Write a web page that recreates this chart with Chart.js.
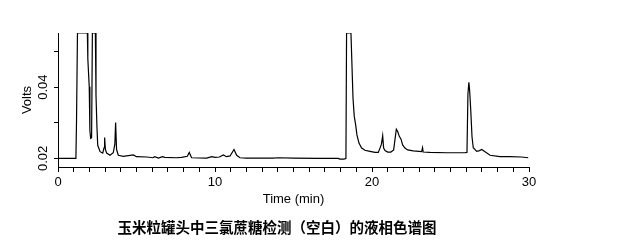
<!DOCTYPE html>
<html>
<head>
<meta charset="utf-8">
<script src="https://cdn.jsdelivr.net/npm/chart.js@4"></script>
<style>
  html, body { margin: 0; padding: 0; background: #fff; }
  #wrap { width: 622px; height: 247px; }
</style>
</head>
<body>
<div id="wrap"><canvas id="chart" width="622" height="247"></canvas></div>
<script>
// chromatogram trace
const times = [0, 1.14, 1.18, 1.24, 1.87, 1.90, 1.99, 2.03, 2.08, 2.14, 2.19, 2.38, 2.42, 2.48, 2.53, 2.68, 2.85, 2.93, 2.97, 3.02,
  3.10, 3.31, 3.52, 3.62, 3.67, 3.73, 3.84, 4.16, 4.80, 5.00, 5.66, 6.05, 6.15, 6.40, 6.65, 6.80, 7.55, 7.87, 8.24, 8.36,
  8.51, 9.47, 9.79, 10.00, 10.28, 10.53, 10.74, 10.96, 11.21, 11.38, 11.59, 12.00, 13.70, 14.00, 15.00, 16.50, 17.86, 17.95, 18.20, 18.34,
  18.38, 18.66, 18.70, 18.75, 18.79, 18.87, 18.96, 19.04, 19.17, 19.34, 19.55, 19.87, 20.19, 20.40, 20.51, 20.60, 20.68, 20.74, 20.83, 21.00,
  21.20, 21.38, 21.46, 21.55, 21.63, 21.74, 21.85, 21.95, 22.10, 22.27, 22.63, 23.16, 23.22, 23.26, 23.69, 24.75, 25.92, 26.05, 26.11, 26.17,
  26.22, 26.29, 26.37, 26.45, 26.67, 26.85, 26.99, 27.20, 27.52, 28.15, 28.78, 29.52, 29.95];
const volts = [0.0200, 0.0200, 0.0305, 0.0552, 0.0552, 0.0480, 0.0401, 0.0279, 0.0256, 0.0258, 0.0552, 0.0552, 0.0378, 0.0289, 0.0237, 0.0219, 0.0215, 0.0230, 0.0259, 0.0225,
  0.0215, 0.0209, 0.0216, 0.0240, 0.0301, 0.0225, 0.0209, 0.0206, 0.0210, 0.0205, 0.0204, 0.0202, 0.0205, 0.0201, 0.0205, 0.0203, 0.0202, 0.0203, 0.0206, 0.0217,
  0.0202, 0.0201, 0.0205, 0.0203, 0.0204, 0.0210, 0.0205, 0.0207, 0.0225, 0.0209, 0.0202, 0.0201, 0.0201, 0.0202, 0.0201, 0.0200, 0.0200, 0.0198, 0.0198, 0.0200,
  0.0552, 0.0552, 0.0495, 0.0425, 0.0369, 0.0318, 0.0294, 0.0266, 0.0243, 0.0229, 0.0223, 0.0220, 0.0217, 0.0217, 0.0229, 0.0240, 0.0264, 0.0229, 0.0222, 0.0218,
  0.0218, 0.0224, 0.0252, 0.0282, 0.0276, 0.0262, 0.0254, 0.0238, 0.0229, 0.0224, 0.0221, 0.0219, 0.0230, 0.0218, 0.0217, 0.0216, 0.0216, 0.0217, 0.0380, 0.0414,
  0.0390, 0.0335, 0.0261, 0.0230, 0.0220, 0.0222, 0.0225, 0.0219, 0.0209, 0.0205, 0.0205, 0.0204, 0.0202];

const xTicks = [0, 1, 2, 3, 4, 5, 6, 7, 8, 9, 10, 11, 12, 13, 14, 15, 16, 17, 18, 19, 20, 21, 22, 23, 24, 25, 26, 27, 28, 29, 30];
const xTickLabels = { 0: '0', 10: '10', 20: '20', 30: '30' };
const yTicks = [0.02, 0.03, 0.04, 0.05];
const yTickLabels = { '0.02': '0.02', '0.04': '0.04' };

const caption = '玉米粒罐头中三氯蔗糖检测（空白）的液相色谱图';

const points = times.map((t, i) => ({ x: t, y: volts[i] }));

const captionPlugin = {
    id: 'caption',
    afterDraw(chart) {
        const ctx = chart.ctx;
        ctx.save();
        ctx.font = 'bold 14.5px "Noto Sans CJK SC"';
        ctx.fillStyle = '#000';
        ctx.textAlign = 'center';
        ctx.textBaseline = 'middle';
        ctx.fillText(caption, 277, 227);
        ctx.restore();
    }
};

const axisFont = { family: 'Arial, "Liberation Sans"', size: 13 };

new Chart(document.getElementById('chart'), {
    type: 'line',
    data: {
        datasets: [{
            data: points,
            borderColor: '#000',
            borderWidth: 1.2,
            pointRadius: 0,
            tension: 0,
            fill: false
        }]
    },
    options: {
        responsive: false,
        animation: false,
        layout: { padding: { left: 0, right: 93, top: 33, bottom: 35 } },
        plugins: { legend: { display: false }, tooltip: { enabled: false } },
        scales: {
            x: {
                type: 'linear',
                min: 0,
                max: 30,
                afterBuildTicks: s => { s.ticks = xTicks.map(v => ({ value: v })); },
                afterFit: s => { s.height = 45; },
                ticks: {
                    color: '#000',
                    font: axisFont,
                    padding: 3,
                    maxRotation: 0,
                    autoSkip: false,
                    callback: v => xTickLabels[v] || ''
                },
                grid: { drawOnChartArea: false, drawTicks: true, tickLength: 5, color: '#000' },
                border: { display: true, color: '#000', width: 1 },
                title: { display: true, text: 'Time (min)', color: '#000', font: axisFont, padding: { top: 0, bottom: 5 } }
            },
            y: {
                type: 'linear',
                min: 0.0176,
                max: 0.0552,
                afterBuildTicks: s => { s.ticks = yTicks.map(v => ({ value: v })); },
                afterFit: s => { s.width = 58; },
                ticks: {
                    color: '#000',
                    font: axisFont,
                    minRotation: 90,
                    maxRotation: 90,
                    crossAlign: 'center',
                    padding: -2,
                    autoSkip: false,
                    callback: v => yTickLabels[v.toFixed(2)] || ''
                },
                grid: { drawOnChartArea: false, drawTicks: true, tickLength: 4, color: '#000' },
                border: { display: true, color: '#000', width: 1 },
                title: { display: true, text: 'Volts', color: '#000', font: axisFont, padding: { top: 20, bottom: 0 } }
            }
        }
    },
    plugins: [captionPlugin]
});
</script>
</body>
</html>
